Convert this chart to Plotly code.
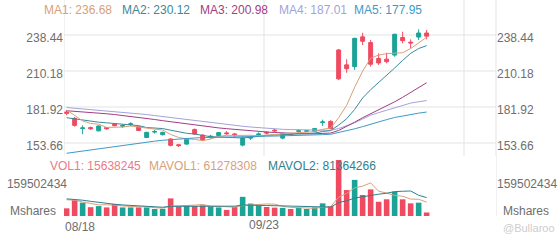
import plotly.graph_objects as go

# ---------------- data ----------------
dates = ["08/18", "08/19", "08/20", "08/21", "08/22", "08/25", "08/26", "08/27", "08/28", "08/29",
         "09/02", "09/03", "09/04", "09/05", "09/08", "09/09", "09/10", "09/11", "09/12", "09/15",
         "09/16", "09/17", "09/18", "09/19", "09/22", "09/23", "09/24", "09/25", "09/26", "09/29",
         "09/30", "10/01", "10/02", "10/03", "10/06", "10/07", "10/08", "10/09", "10/10", "10/13",
         "10/14", "10/15", "10/16", "10/17", "10/20", "10/21"]

open_ = [178.0, 173.0, 165.0, 165.8, 163.2, 165.8, 168.5, 166.8, 168.2, 166.4,
         158.0, 162.2, 160.2, 156.8, 152.3, 152.8, 164.3, 159.8, 158.3, 159.5,
         161.6, 160.8, 152.0, 157.5, 160.2, 162.0, 163.8, 157.5, 160.8, 162.8,
         162.8, 162.6, 169.7, 170.6, 226.7, 215.0, 213.6, 237.0, 232.5, 220.0,
         219.5, 222.7, 236.5, 232.8, 236.8, 240.0]
high = [179.5, 174.0, 167.5, 166.5, 167.5, 166.2, 169.0, 168.5, 170.0, 167.0,
        162.5, 164.0, 162.5, 157.5, 153.0, 157.0, 165.0, 160.5, 160.0, 162.3,
        163.0, 161.5, 158.5, 159.5, 162.0, 163.0, 165.0, 161.5, 161.5, 164.5,
        164.0, 165.5, 172.0, 171.5, 227.5, 219.4, 236.3, 240.2, 234.5, 224.0,
        224.6, 239.5, 241.0, 235.0, 242.9, 242.4]
low = [175.5, 166.5, 160.5, 164.0, 162.8, 164.2, 166.8, 165.5, 166.8, 163.0,
       157.5, 161.0, 159.5, 151.0, 150.5, 152.3, 160.0, 155.5, 157.0, 159.0,
       160.0, 158.5, 151.0, 156.0, 159.0, 160.5, 162.0, 156.5, 159.5, 162.0,
       162.2, 162.2, 167.0, 164.5, 203.0, 208.8, 211.0, 230.6, 213.6, 214.9,
       216.2, 221.4, 231.9, 227.9, 234.5, 235.0]
close = [177.0, 167.5, 165.5, 164.8, 167.0, 164.8, 167.2, 167.3, 168.7, 163.5,
         162.0, 162.7, 162.0, 151.8, 151.6, 156.5, 160.7, 156.2, 158.9, 161.8,
         161.0, 160.2, 157.5, 158.0, 160.7, 161.5, 163.2, 161.0, 160.3, 163.3,
         163.3, 165.0, 170.2, 165.0, 204.0, 212.0, 235.8, 233.5, 215.5, 216.5,
         217.5, 239.0, 234.0, 232.2, 240.0, 237.5]

ma1 = [179.6, 175.0, 171.0, 169.0, 168.4, 165.9, 165.9, 166.2, 167.0, 166.3,
       165.7, 164.8, 163.8, 160.4, 158.0, 156.9, 156.5, 155.4, 156.8, 158.8,
       159.7, 159.6, 159.9, 159.7, 159.5, 159.6, 160.2, 160.9, 161.3, 161.9,
       162.2, 162.6, 164.4, 165.4, 173.5, 183.2, 197.4, 210.1, 220.2, 222.7,
       223.8, 224.4, 224.5, 227.8, 232.5, 236.68]
ma2 = [173.5, 172.5, 171.5, 170.5, 170.0, 169.5, 169.0, 168.5, 168.0, 167.3,
       165.8, 165.4, 165.0, 163.7, 162.2, 161.3, 160.7, 159.6, 158.6, 158.4,
       158.3, 158.1, 157.6, 158.2, 159.2, 159.7, 159.9, 160.4, 160.5, 160.7,
       160.9, 161.4, 162.7, 163.4, 167.7, 172.7, 180.0, 189.0, 195.5, 201.0,
       206.5, 212.5, 218.5, 224.0, 227.8, 230.12]
ma3 = [179.0, 178.6, 178.2, 177.7, 177.2, 176.6, 176.0, 175.3, 174.6, 173.8,
       173.0, 172.1, 171.2, 170.3, 169.4, 168.5, 167.7, 166.9, 166.2, 165.5,
       164.9, 164.3, 163.7, 163.2, 162.7, 162.3, 161.9, 161.5, 161.2, 161.0,
       160.8, 160.9, 161.2, 161.5, 163.5, 166.5, 170.0, 173.5, 176.5, 179.5,
       182.5, 186.0, 189.5, 193.5, 197.5, 200.98]
ma4 = [181.5, 181.0, 180.5, 180.0, 179.5, 179.0, 178.4, 177.8, 177.2, 176.6,
       176.0, 175.2, 174.4, 173.6, 172.8, 172.0, 171.2, 170.4, 169.6, 168.8,
       168.0, 167.4, 166.8, 166.2, 165.6, 165.0, 164.7, 164.4, 164.2, 164.0,
       163.9, 163.8, 163.7, 163.6, 165.0, 167.0, 169.5, 172.5, 175.5, 177.5,
       179.5, 181.5, 183.5, 185.0, 186.0, 187.01]
ma5 = [145.6, 146.5, 147.4, 148.3, 149.2, 150.1, 151.0, 151.9, 152.8, 153.6,
       154.4, 155.1, 155.8, 156.4, 156.9, 157.3, 157.6, 157.9, 158.1, 158.3,
       158.5, 158.6, 158.7, 158.8, 158.9, 159.0, 159.1, 159.2, 159.3, 159.5,
       159.7, 159.9, 160.2, 160.5, 161.8, 163.0, 164.8, 166.5, 168.5, 170.3,
       172.0, 173.7, 175.0, 176.2, 177.1, 177.95]

# volumes in millions of shares
volume_m = [34, 70, 59, 39, 44, 38, 53, 38, 38, 38,
            38, 31, 32, 78, 42, 44, 44, 47, 42, 38,
            27, 41, 85, 55, 46, 40, 37, 36, 31, 36,
            31, 38, 56, 44, 248, 115, 160, 93, 118, 63,
            74, 108, 74, 56, 59, 15.638245]
mavol1_m = [72, 70, 62, 54, 49.2, 50, 46.6, 42.4, 42.2, 41,
            41, 36.6, 35.4, 43.4, 44.2, 45.4, 48, 51, 43.8, 43,
            39.6, 39, 46.6, 49.2, 50.8, 53.4, 52.6, 42.8, 38, 36,
            34.2, 34.4, 38.4, 41, 83.4, 100.2, 124.6, 132, 146.8, 109.8,
            101.6, 91.2, 87.4, 75, 74.2, 61.278308]
mavol2_m = [76, 74, 70, 65, 60, 56, 52, 49, 47, 45.1,
            45.5, 41.6, 38.9, 42.8, 42.6, 43.2, 42.3, 43.2, 43.6, 43.6,
            42.5, 43.5, 48.8, 46.5, 46.9, 46.5, 45.8, 44.7, 43.6, 43.4,
            43.8, 43.5, 40.6, 39.5, 59.7, 67.2, 79.5, 85.2, 93.9, 96.6,
            100.9, 107.9, 109.7, 110.9, 92, 81.364266]

price_ticks = [153.66, 181.92, 210.18, 238.44]
volume_tick = 159502434
grid_dates = [0, 25, 50]          # trading-day indices of vertical grid lines
label_dates = {25: "09/23"}       # labelled via axis; index 0 label via annotation
unit_label = "Mshares"
watermark = "@Bullaroo"

# ---------------- styling ----------------
W, H = 560, 240
L, R, T, B = 64, 64, 0, 24
PW, PH = W - L - R, H - T - B
RED = "#EF4A60"
TEAL = "#1BA397"
GRID = "#e3e3e3"
TICK = "#6e6e6e"
FONT = "Liberation Sans, Arial, sans-serif"
C_MA = ["#D9A077", "#3A8A99", "#A33D7F", "#A3A3DB", "#3E9AC9"]
C_VOL = "#EC7A88"
C_MAVOL = ["#D9A077", "#2F7F8E"]

SLOT = 8.0                  # px per candle
X0 = -0.33                  # left edge of the plot in index units
x = list(range(len(dates)))
x_range = [X0, X0 + PW / SLOT]

# price axis: 238.44 at y=35px, 153.66 at y=143px (from top of plot area)
ppu = (143 - 35) / (price_ticks[-1] - price_ticks[0])
price_dom_bottom_px = 158
p_top = price_ticks[-1] + 35 / ppu
p_bot = price_ticks[-1] - (price_dom_bottom_px - 35) / ppu

# volume axis: volume_tick at 36px above bottom, domain 60px high
vol_dom_px = 60
v_max = volume_tick * vol_dom_px / 36.0

fig = go.Figure()

fig.add_trace(go.Candlestick(
    x=x, open=open_, high=high, low=low, close=close,
    increasing=dict(line=dict(color=TEAL, width=1), fillcolor=TEAL),
    decreasing=dict(line=dict(color=RED, width=1), fillcolor=RED),
    whiskerwidth=0, xaxis="x", yaxis="y", showlegend=False, hoverinfo="skip"))

for arr, col, ax in zip([ma5, ma4, ma3, ma2, ma1], C_MA[::-1], ["y3", "y", "y", "y", "y"]):
    fig.add_trace(go.Scatter(x=x, y=arr, mode="lines", line=dict(color=col, width=1),
                             xaxis="x", yaxis=ax, showlegend=False, hoverinfo="skip"))

vol_colors = [TEAL if c >= o else RED for o, c in zip(open_, close)]
fig.add_trace(go.Bar(x=x, y=[v * 1e6 for v in volume_m], marker=dict(color=vol_colors, line=dict(width=0)),
                     width=0.7, xaxis="x", yaxis="y2", showlegend=False, hoverinfo="skip"))
fig.add_trace(go.Scatter(x=x, y=[v * 1e6 for v in mavol2_m], mode="lines",
                         line=dict(color=C_MAVOL[1], width=1), xaxis="x", yaxis="y4",
                         showlegend=False, hoverinfo="skip"))
fig.add_trace(go.Scatter(x=x, y=[v * 1e6 for v in mavol1_m], mode="lines",
                         line=dict(color=C_MAVOL[0], width=1), xaxis="x", yaxis="y2",
                         showlegend=False, hoverinfo="skip"))

tickfont = dict(family=FONT, size=12, color=TICK)
price_text = [f"{v:.2f}" for v in price_ticks]

common_y = dict(showgrid=False, zeroline=False, ticks="",
                showline=False, tickfont=tickfont, fixedrange=True)

fig.update_layout(
    width=W, height=H, margin=dict(l=L, r=R, t=T, b=B),
    paper_bgcolor="white", plot_bgcolor="white",
    font=dict(family=FONT, size=12, color=TICK),
    bargap=0.3,
    xaxis=dict(domain=[0, 1], range=x_range, anchor="y2", showgrid=False, zeroline=False,
               tickvals=[k + X0 for k in label_dates], ticktext=list(label_dates.values()),
               ticks="", showline=False, tickfont=tickfont,
               rangeslider=dict(visible=False), fixedrange=True),
    yaxis=dict(domain=[(PH - price_dom_bottom_px) / PH, 1], range=[p_bot, p_top], anchor="x",
               side="left", tickvals=price_ticks, ticktext=price_text, ticklabelshift=3,
               **common_y),
    yaxis3=dict(overlaying="y", range=[p_bot, p_top], anchor="x", side="right",
                tickvals=price_ticks, ticktext=price_text, ticklabelshift=3, **common_y),
    yaxis2=dict(domain=[0, vol_dom_px / PH], range=[0, v_max], anchor="x", side="left",
                tickvals=[volume_tick], ticktext=[str(volume_tick)], ticklabelshift=4,
                ticklabelstandoff=-4, **common_y),
    yaxis4=dict(overlaying="y2", range=[0, v_max], anchor="x", side="right",
                tickvals=[volume_tick], ticktext=[str(volume_tick)], ticklabelshift=4, **common_y),
)

# grid lines drawn as shapes at the axis tick positions
gl = dict(color=GRID, width=1)
shapes = []
for g in grid_dates:
    shapes.append(dict(type="line", xref="x", yref="paper", x0=g + X0, x1=g + X0, y0=0, y1=1,
                       line=gl, layer="below"))
shapes.append(dict(type="line", xref="paper", yref="paper", x0=1, x1=1, y0=0, y1=1,
                   line=gl, layer="below"))
for p in price_ticks:
    shapes.append(dict(type="line", xref="paper", yref="y", x0=0, x1=1, y0=p, y1=p,
                       line=gl, layer="below"))
for v in [0, volume_tick]:
    shapes.append(dict(type="line", xref="paper", yref="y2", x0=0, x1=1, y0=v, y1=v,
                       line=gl, layer="below"))
fig.update_layout(shapes=shapes)


def px_x(px):
    return (px - L) / PW


def px_y(py):
    return (PH - (py - T)) / PH


ann = []
ma_vals = [ma1[-1], ma2[-1], ma3[-1], ma4[-1], ma5[-1]]
ma_left = [42, 120, 198, 277, 352]
for i, (v, c, lx) in enumerate(zip(ma_vals, C_MA, ma_left)):
    ann.append(dict(text=f"MA{i + 1}: {v:.2f}", x=px_x(lx), y=px_y(10), xref="paper", yref="paper",
                    xanchor="left", yanchor="middle", showarrow=False,
                    font=dict(family=FONT, size=12, color=c)))

vol_items = [("VOL1", volume_m[-1], C_VOL), ("MAVOL1", mavol1_m[-1], C_MAVOL[0]),
             ("MAVOL2", mavol2_m[-1], C_MAVOL[1])]
vol_left = [48, 147, 266]
for (name, v, c), lx in zip(vol_items, vol_left):
    ann.append(dict(text=f"{name}: {int(round(v * 1e6))}", x=px_x(lx), y=px_y(166), xref="paper",
                    yref="paper", xanchor="left", yanchor="middle", showarrow=False,
                    font=dict(family=FONT, size=12, color=c)))

ann.append(dict(text=unit_label, x=px_x(58), y=px_y(211), xref="paper", yref="paper",
                xanchor="right", yanchor="middle", showarrow=False, font=tickfont))
ann.append(dict(text=unit_label, x=px_x(501), y=px_y(211), xref="paper", yref="paper",
                xanchor="left", yanchor="middle", showarrow=False, font=tickfont))
ann.append(dict(text=dates[0], x=px_x(63), y=px_y(227), xref="paper", yref="paper",
                xanchor="left", yanchor="middle", showarrow=False, font=tickfont))
ann.append(dict(text=watermark, x=px_x(501), y=px_y(228), xref="paper", yref="paper",
                xanchor="left", yanchor="middle", showarrow=False,
                font=dict(family=FONT, size=11, color="#cdcdcd")))
fig.update_layout(annotations=ann)

fig.write_html("out.html")
